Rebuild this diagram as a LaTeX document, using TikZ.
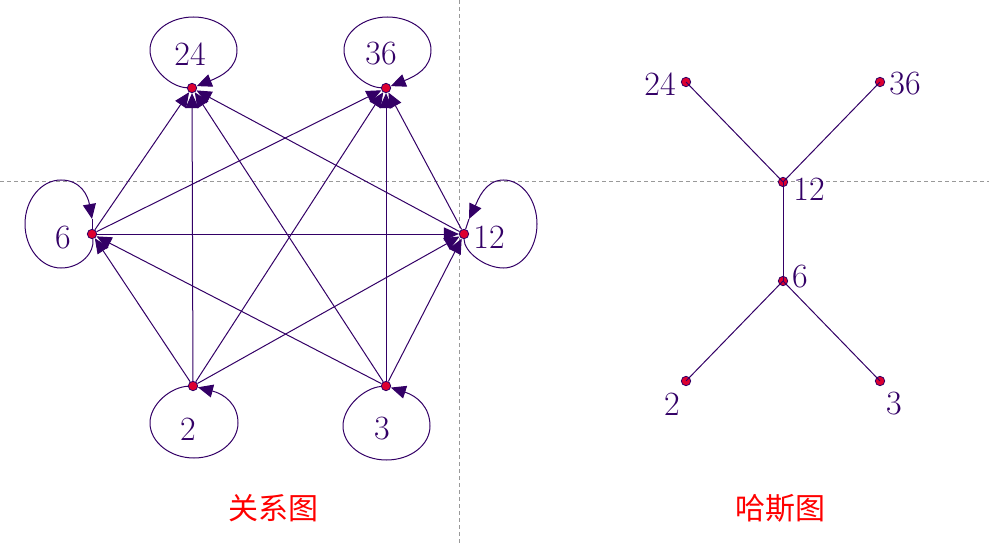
\documentclass[tikz,border=0pt]{standalone}
\usepackage{fontspec}
\newfontfamily\cjk{Noto Sans CJK SC}
\usetikzlibrary{arrows.meta}
\definecolor{ink}{HTML}{330066}
\definecolor{dotred}{HTML}{DD0030}
\begin{document}
\begin{tikzpicture}[x=0.5pt,y=-0.5pt,
  dot/.style={circle,draw=ink,fill=dotred,line width=0.4pt,inner sep=0pt,minimum size=4.7pt},
  lbl/.style={text=ink,font=\fontsize{17}{20}\selectfont,inner sep=0pt},
  tipstyle/.style={-{Triangle[length=7.5pt,width=6.5pt]}},
  rel/.style={draw=ink,line width=0.5pt,tipstyle},
  loopline/.style={draw=ink,line width=0.5pt},
  hasse/.style={draw=ink,line width=0.5pt},
  guide/.style={draw=gray!80,dash pattern=on 2pt off 1.5pt,line width=0.4pt},
  captext/.style={text=red,font=\cjk\fontsize{15}{18}\selectfont,inner sep=0pt}]
\useasboundingbox (0,0) rectangle (989,545);
\draw[guide] (0,181) -- (989,181);
\draw[guide] (459,0) -- (459,545);

% relation graph
\node[dot] (r24) at (192,88) {};
\node[dot] (r36) at (386,88) {};
\node[dot] (r6) at (92,234) {};
\node[dot] (r12) at (464,234) {};
\node[dot] (r2) at (193,386) {};
\node[dot] (r3) at (386,386) {};

\node[lbl] (l24) at (190,54) {24};
\node[lbl] (l36) at (381,54) {36};
\node[lbl] (l6) at (63,238) {6};
\node[lbl] (l12) at (489,237) {12};
\node[lbl] (l2) at (188,429) {2};
\node[lbl] (l3) at (382,429) {3};

% free ends of the side loops
\coordinate (a6) at (92,219);
\coordinate (a12) at (469,219);

\draw[rel] (r24) .. controls (170,87) and (150,68) .. (150,50)
  .. controls (150,32) and (169.5,17) .. (193.5,17)
  .. controls (217.5,17) and (237,32) .. (237,50)
  .. controls (237,68) and (222,76) .. (r24);
\draw[rel] (r36) .. controls (364,87) and (344,68) .. (344,50)
  .. controls (344,32) and (363.5,17) .. (387.5,17)
  .. controls (411.5,17) and (431,32) .. (431,50)
  .. controls (431,68) and (416,76) .. (r36);
\draw[rel] (r2) .. controls (171,387) and (150,404) .. (150,423)
  .. controls (150,442) and (170,458) .. (194,458)
  .. controls (218,458) and (238,442) .. (238,423)
  .. controls (238,404) and (224,394) .. (r2);
\draw[rel] (r3) .. controls (364,388) and (343,407) .. (343,426)
  .. controls (343,445) and (362.5,460) .. (386.5,460)
  .. controls (410.5,460) and (430,445) .. (430,426)
  .. controls (430,407) and (417,396) .. (r3);
\draw[rel] (r6) .. controls (95,252) and (81,268) .. (61,268)
  .. controls (41,268) and (25,248) .. (25,224)
  .. controls (25,200) and (41,180) .. (61,180)
  .. controls (81,180) and (88,196) .. (a6);
\draw[loopline] (a6) -- (r6);
\draw[rel] (r12) .. controls (464,252) and (485,268) .. (503.5,268)
  .. controls (522,268) and (537,248) .. (537,224)
  .. controls (537,200) and (522,180) .. (503.5,180)
  .. controls (485,180) and (478,200) .. (a12);
\draw[loopline] (a12) -- (r12);

\draw[rel] (r2) -- (r6);
\draw[rel] (r2) -- (r12);
\draw[rel] (r2) -- (r24);
\draw[rel] (r2) -- (r36);
\draw[rel] (r3) -- (r6);
\draw[rel] (r3) -- (r12);
\draw[rel] (r3) -- (r24);
\draw[rel] (r3) -- (r36);
\draw[rel] (r6) -- (r12);
\draw[rel] (r6) -- (r24);
\draw[rel] (r6) -- (r36);
\draw[rel] (r12) -- (r24);
\draw[rel] (r12) -- (r36);

% Hasse diagram
\node[dot] (h24) at (686,82) {};
\node[dot] (h36) at (880,82) {};
\node[dot] (h12) at (783,182) {};
\node[dot] (h6) at (783,281) {};
\node[dot] (h2) at (686,381) {};
\node[dot] (h3) at (880,381) {};

\draw[hasse] (h24.center) -- (h12.center);
\draw[hasse] (h36.center) -- (h12.center);
\draw[hasse] (h12.center) -- (h6.center);
\draw[hasse] (h6.center) -- (h2.center);
\draw[hasse] (h6.center) -- (h3.center);

\node[lbl] (m24) at (660,84) {24};
\node[lbl] (m36) at (905,84) {36};
\node[lbl] (m12) at (809,189) {12};
\node[lbl] (m6) at (800,277) {6};
\node[lbl] (m2) at (672,404) {2};
\node[lbl] (m3) at (894,404) {3};

\node[captext] (c1) at (273,508) {关系图};
\node[captext] (c2) at (780,508) {哈斯图};
\end{tikzpicture}
\end{document}
